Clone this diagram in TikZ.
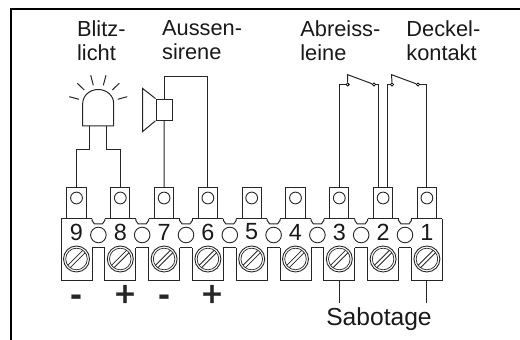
\documentclass[tikz,border=0pt]{standalone}
\usepackage{fontspec}
\setmainfont{Liberation Sans}
\newfontfamily\plusfont[FakeBold=1.2]{Liberation Sans}
\tikzset{
  wire/.style={line width=0.5pt, black!85},
  tabbox/.style={rectangle, draw, line width=0.5pt, black!85, minimum width=9.6pt, minimum height=15.5pt, inner sep=0pt},
  hole/.style={circle, draw, line width=0.45pt, black!85, minimum size=5.9pt, inner sep=0pt},
  bridgehole/.style={circle, draw, line width=0.45pt, black!85, minimum size=7.8pt, inner sep=0pt},
  contact/.style={circle, draw, line width=0.4pt, minimum size=1.6pt, inner sep=0pt},
  lbl/.style={anchor=west, align=left, inner sep=0pt, font=\fontsize{10.9}{12}\selectfont, text=black!90},
  num/.style={inner sep=0pt, font=\fontsize{11.7}{12}\selectfont, text=black!90},
  minuslbl/.style={inner sep=0pt, anchor=base, font=\fontsize{18}{18}\selectfont\bfseries, text=black!85},
  pluslbl/.style={inner sep=0pt, anchor=base, font=\fontsize{18}{18}\selectfont\plusfont, text=black!85}
}
\begin{document}
\begin{tikzpicture}[x=0.5pt, y=-0.5pt]
\useasboundingbox (0,0) rectangle (520,340);

\draw[line width=1.15pt] (520,9) -- (11,9) -- (11,340);

\node[lbl] (blitz) at (76.7,40.5) {Blitz-\\licht};
\node[lbl] (sirene) at (161.7,40.5) {Aussen-\\sirene};
\node[lbl] (abreiss) at (300,40.5) {Abreiss-\\leine};
\node[lbl] (deckel) at (406,40.5) {Deckel-\\kontakt};

\foreach \n [count=\i from 0] in {9,8,7,6,5,4,3,2,1} {
  \pgfmathsetmacro{\cx}{76.5+43.8*\i}
  \node[tabbox] (tab\n) at (\cx,203.5) {};
  \node[hole] (hole\n) at (\cx,198) {};
  \node[num] (num\n) at (\cx,232) {\n};
  \draw[wire] (\cx-15.5,248) -- (\cx-15.5,280.5) -- (\cx+15.5,280.5) -- (\cx+15.5,248);
  \draw[wire] (\cx-15.5,219) -- (\cx+15.5,219);
  \draw[wire, line width=0.45pt] (\cx,259) circle[radius=13];
  \draw[wire, line width=0.35pt] (\cx,259) circle[radius=10.8];
  \draw[wire, line width=0.4pt] (\cx-6.4,267.8) -- (\cx+8.8,252.6);
  \draw[wire, line width=0.4pt] (\cx-8.8,265.4) -- (\cx+6.4,250.2);
}
\foreach \n [count=\i from 0] in {9,8,7,6,5,4,3,2} {
  \pgfmathsetmacro{\cx}{76.5+43.8*\i}
  \node[bridgehole] (bridge\n) at (\cx+21.9,235) {};
  \draw[wire] (\cx+15.5,219) -- (\cx+15.5,220.5) -- (\cx+18,224) -- (\cx+25.8,224) -- (\cx+28.3,220.5) -- (\cx+28.3,219);
  \draw[wire] (\cx+15.5,248) -- (\cx+28.3,248);
}
\draw[wire] (61,219) -- (61,248);
\draw[wire] (442.4,219) -- (442.4,248);

\node[minuslbl] (m9) at (76.5,306.5) {-};
\node[pluslbl] (p8) at (125,306) {+};
\node[minuslbl] (m7) at (164,306.5) {-};
\node[pluslbl] (p6) at (212,306) {+};

\draw[wire] (82.7,126) -- (82.7,103.5) arc (180:360:15.5 and 14) -- (113.7,126) -- cycle;
\coordinate (lampl) at (89.3,126);
\coordinate (lampr) at (106.7,126);
\draw[wire] (lampl) -- ++(0,23.5) -| (tab9.north);
\draw[wire] (lampr) -- ++(0,23.5) -| (tab8.north);
\draw[wire] (69.3,96.7) -- (79,99.3);
\draw[wire] (77.3,83.3) -- (84.3,90);
\draw[wire] (90.7,75.3) -- (93.3,85.3);
\draw[wire] (106,75.3) -- (103.3,85.3);
\draw[wire] (119.3,83.3) -- (112.3,90);
\draw[wire] (127.3,96.7) -- (117.7,99.3);

\node[rectangle, draw, line width=0.5pt, black!85, minimum width=8pt, minimum height=10.6pt, inner sep=0pt] (horn) at (164,109.7) {};
\draw[wire] (horn.north west) -- (142.7,88.5) -- (142.7,131.5) -- (horn.south west);
\draw[wire] (horn.south) -- (tab7.north);
\draw[wire] (horn.north) -- ++(0,-22) -| (tab6.north);

\node[contact] (c3) at (347.7,84.5) {};
\node[contact] (c3b) at (374,84.5) {};
\node[contact] (c2) at (392,84.5) {};
\node[contact] (c1) at (418,84.5) {};
\coordinate (lever3) at (347.7,74.7);
\coordinate (lever2) at (391.6,74.7);
\draw[wire] (tab3.north) |- (c3);
\draw[wire] (c3) -- (lever3) -- (c3b);
\draw[wire] (c3b) -| ([xshift=-2.15pt]tab2.north);
\draw[wire] ([xshift=2.15pt]tab2.north) |- (c2);
\draw[wire] (c2) -- (lever2) -- (c1);
\draw[wire] (c1) -| (tab1.north);

\coordinate (sab3) at (339.3,302.7);
\coordinate (sab1) at (426.9,302.7);
\draw[wire] (339.3,280.5) -- (sab3);
\draw[wire] (426.9,280.5) -- (sab1);
\node[inner sep=0pt, anchor=base, font=\fontsize{12.3}{14}\selectfont, text=black!90] (sabotage) at (379,326) {Sabotage};
\end{tikzpicture}
\end{document}
